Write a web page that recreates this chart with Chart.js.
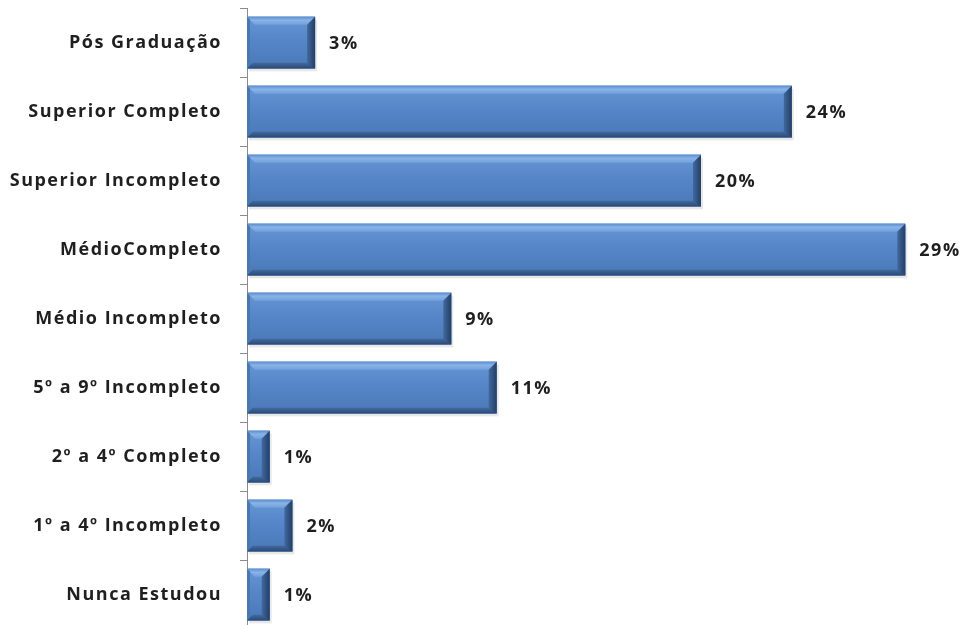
<!DOCTYPE html>
<html>
<head>
<meta charset="utf-8">
<script src="https://cdn.jsdelivr.net/npm/chart.js@4.4.1/dist/chart.umd.min.js"></script>
<style>
  html, body { margin: 0; padding: 0; background: #fff; overflow: hidden; }
  canvas { display: block; }
</style>
</head>
<body>
<canvas id="c" width="964" height="630"></canvas>
<script>
// Escolaridade dos entrevistados (%)
const categories = [
  'Pós Graduação',
  'Superior Completo',
  'Superior Incompleto',
  'MédioCompleto',
  'Médio Incompleto',
  '5º a 9º Incompleto',
  '2º a 4º Completo',
  '1º a 4º Incompleto',
  'Nunca Estudou'
];
const percentages = [3, 24, 20, 29, 9, 11, 1, 2, 1];

const FONT = '"Open Sans", "Liberation Sans", sans-serif';
const TEXT = '#1f1f1f';
const SPACING = '1.5px';

// slightly wider letter spacing for all text on the canvas
const spacing = {
  id: 'spacing',
  beforeDraw(chart) { chart.ctx.letterSpacing = SPACING; }
};

// Bevelled, shaded bar faces drawn over each bar element, plus value labels
const bevelBars = {
  id: 'bevelBars',
  afterDatasetsDraw(chart) {
    const ctx = chart.ctx;
    const meta = chart.getDatasetMeta(0);
    meta.data.forEach((bar, i) => {
      const p = bar.getProps(['x', 'y', 'base', 'height'], true);
      const x0 = Math.min(p.base, p.x), x1 = Math.max(p.base, p.x);
      const t = p.y - p.height / 2, b = p.y + p.height / 2;
      const s = Math.min(8, (x1 - x0) / 2.2, (b - t) / 3);
      ctx.save();
      // soft shadow
      ctx.fillStyle = 'rgba(0,0,0,0.09)';
      ctx.fillRect(x0 + 2, t + 3, x1 - x0, b - t);
      // face
      const g = ctx.createLinearGradient(0, t, 0, b);
      g.addColorStop(0, '#6596d4');
      g.addColorStop(0.45, '#5686c8');
      g.addColorStop(1, '#4a79b8');
      ctx.fillStyle = g;
      ctx.fillRect(x0, t, x1 - x0, b - t);
      const poly = (pts, fill) => {
        ctx.beginPath();
        ctx.moveTo(pts[0][0], pts[0][1]);
        for (let k = 1; k < pts.length; k++) ctx.lineTo(pts[k][0], pts[k][1]);
        ctx.closePath();
        ctx.fillStyle = fill;
        ctx.fill();
      };
      // top highlight
      const gt = ctx.createLinearGradient(0, t, 0, t + s);
      gt.addColorStop(0, '#5a8ccd');
      gt.addColorStop(0.45, '#8ab4e8');
      gt.addColorStop(1, '#72a0dc');
      poly([[x0, t], [x1, t], [x1 - s, t + s], [x0 + s, t + s]], gt);
      // bottom shade
      const gb = ctx.createLinearGradient(0, b - s * 0.7, 0, b);
      gb.addColorStop(0, '#42699e');
      gb.addColorStop(1, '#2a4a76');
      poly([[x0, b], [x1, b], [x1 - s * 0.7, b - s * 0.7], [x0 + s * 0.7, b - s * 0.7]], gb);
      // right end
      const gr = ctx.createLinearGradient(x1 - s, 0, x1, 0);
      gr.addColorStop(0, '#41699f');
      gr.addColorStop(1, '#223f66');
      poly([[x1, t], [x1, b], [x1 - s, b - s * 0.7], [x1 - s, t + s]], gr);
      // left end
      poly([[x0, t], [x0, b], [x0 + 3, b - 3], [x0 + 3, t + 3]], '#4777b5');
      // value label
      ctx.letterSpacing = SPACING;
      ctx.fillStyle = TEXT;
      ctx.font = 'bold 18px ' + FONT;
      ctx.textAlign = 'left';
      ctx.textBaseline = 'middle';
      ctx.fillText(percentages[i] + '%', x1 + 14, p.y + 1);
      ctx.restore();
    });
  }
};

new Chart(document.getElementById('c'), {
  type: 'bar',
  data: {
    labels: categories,
    datasets: [{
      data: percentages,
      backgroundColor: '#5686c8',
      borderWidth: 0,
      categoryPercentage: 1,
      barPercentage: 0.75
    }]
  },
  options: {
    indexAxis: 'y',
    responsive: false,
    animation: false,
    layout: { autoPadding: false, padding: { top: 8, right: 36, bottom: 1, left: 0 } },
    plugins: { legend: { display: false }, tooltip: { enabled: false } },
    scales: {
      x: { display: false, min: 0, max: 30 },
      y: {
        afterFit(scale) {
          scale.width = 247;
          scale.paddingTop = 0;
          scale.paddingBottom = 0;
        },
        border: { display: true, color: '#8c8c8c', width: 1 },
        grid: { display: true, drawOnChartArea: false, drawTicks: true, tickLength: 7, color: '#8c8c8c', offset: true },
        ticks: { color: TEXT, padding: 18, font: { family: FONT, size: 18, weight: 'bold' } }
      }
    }
  },
  plugins: [spacing, bevelBars]
});
</script>
</body>
</html>
